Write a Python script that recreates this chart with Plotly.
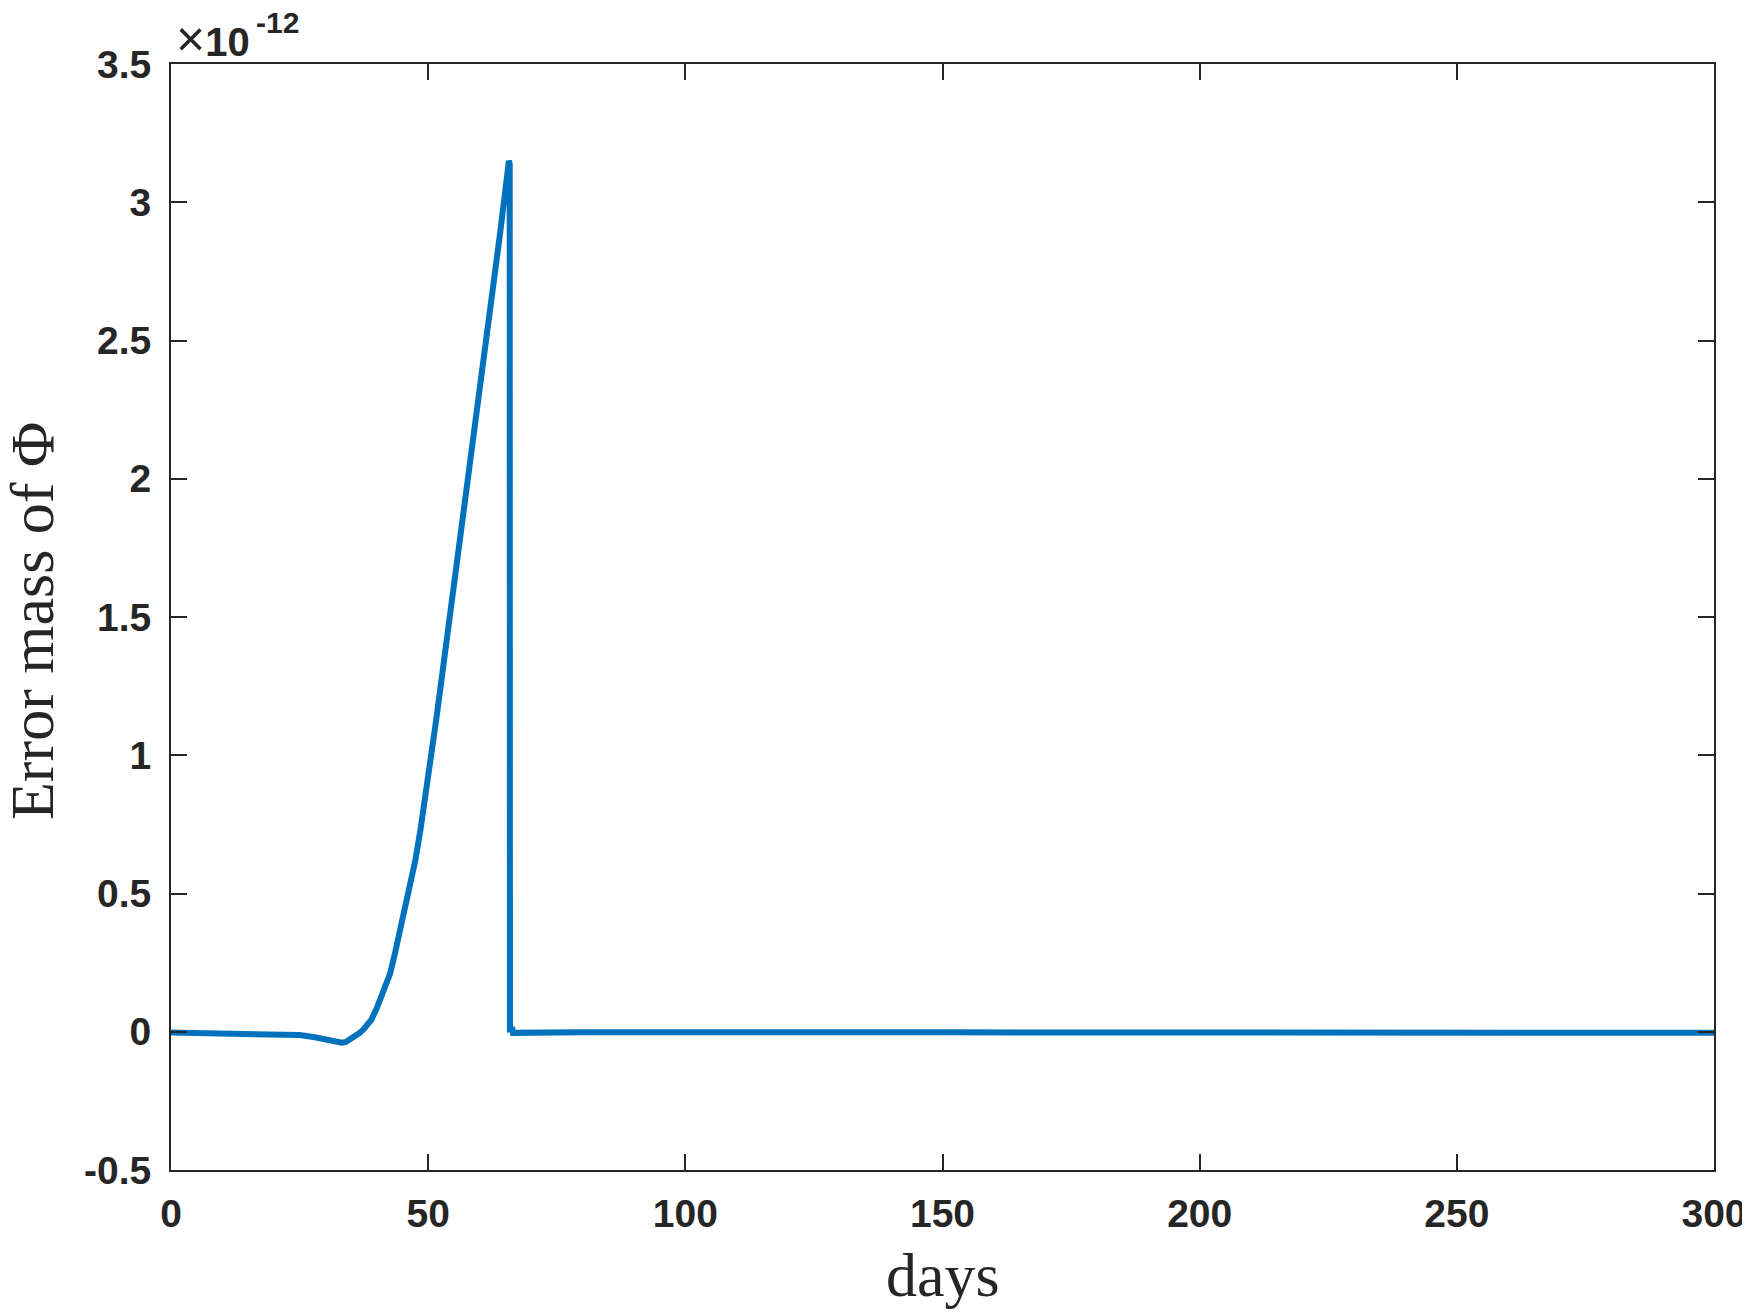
import plotly.graph_objects as go

# Data (values in units of 1e-12)
days = [0, 5, 10, 15, 20, 25, 28, 30, 31.5, 32.5, 33.2, 34, 34.8, 35.6, 36.7, 37.5, 38.3, 39, 40,
        41.3, 42.6, 43.5, 44.5, 45.5, 46.5, 47.5, 48.5, 49.5, 50.5, 51.5, 52.5, 54, 56, 58,
        60, 62, 64, 65.7, 65.85, 65.9, 66.4, 66.5, 70, 80, 100, 120, 150, 200, 250, 300]
error_mass = [-0.003, -0.004, -0.006, -0.008, -0.01, -0.012, -0.02, -0.028, -0.035, -0.039,
              -0.04, -0.037, -0.029, -0.018, -0.004, 0.01, 0.026, 0.045, 0.085,
              0.145, 0.21, 0.28, 0.36, 0.44, 0.527, 0.62, 0.73, 0.85, 0.98, 1.12, 1.26, 1.47,
              1.75, 2.03, 2.31, 2.6, 2.89, 3.15, 3.14, 0.008, 0.008, -0.004, -0.003, -0.002,
              -0.002, 0.0, -0.002, -0.003, -0.003, -0.004]

x_ticks = [0, 50, 100, 150, 200, 250, 300]
y_ticks = [-0.5, 0, 0.5, 1, 1.5, 2, 2.5, 3, 3.5]
y_tick_labels = ["-0.5", "0", "0.5", "1", "1.5", "2", "2.5", "3", "3.5"]

fig = go.Figure()
fig.add_trace(go.Scatter(x=days, y=error_mass, mode="lines",
                         line=dict(color="#0072BD", width=6), showlegend=False))

axis_common = dict(showline=True, linecolor="#262626", linewidth=2, mirror="ticks",
                   ticks="inside", ticklen=16, tickwidth=2, tickcolor="#262626",
                   showgrid=False, zeroline=False, automargin=False,
                   tickfont=dict(family="Liberation Sans, Arial", size=39, color="#262626", weight="bold"))

fig.update_xaxes(range=[0, 300], tickvals=x_ticks, ticktext=[str(t) for t in x_ticks],
                 ticklabelstandoff=8, **axis_common)
fig.update_yaxes(range=[-0.5, 3.5], tickvals=y_ticks, ticktext=y_tick_labels,
                 ticklabelstandoff=10, **axis_common)

title_font = dict(family="Liberation Serif, serif", size=62, color="#262626")
fig.add_annotation(x=0.5, y=0, xref="paper", yref="paper", xanchor="center", yanchor="middle",
                   text="days", showarrow=False, yshift=-105, font=title_font)
fig.add_annotation(x=0, y=0.5, xref="paper", yref="paper", xanchor="center", yanchor="middle",
                   text="Error mass of Φ", textangle=-90, showarrow=False, xshift=-139, yshift=-4,
                   font=title_font)

fig.add_annotation(x=0, y=1, xref="paper", yref="paper", xanchor="left", yanchor="middle",
                   text="<span style='font-size:50px'>×</span><b>10</b>", showarrow=False,
                   xshift=3, yshift=25,
                   font=dict(family="Liberation Sans, Arial", size=40, color="#262626"))
fig.add_annotation(x=0, y=1, xref="paper", yref="paper", xanchor="left", yanchor="middle",
                   text="<b>-12</b>", showarrow=False, xshift=83, yshift=42,
                   font=dict(family="Liberation Sans, Arial", size=30, color="#262626"))

# page body has an 8px margin, so the figure is offset by 8px right and down
fig.update_layout(width=1742, height=1305, plot_bgcolor="white", paper_bgcolor="white",
                  margin=dict(l=163, r=36, t=56, b=143))

fig.write_html("out.html")
